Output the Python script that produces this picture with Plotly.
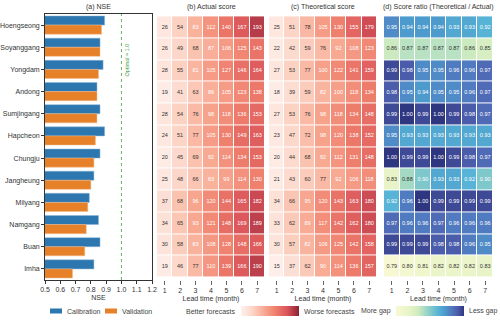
import plotly.graph_objects as go

# ---- data ----
dams = ["Hoengseong", "Soyanggang", "Yongdam", "Andong", "Sumjingang", "Hapcheon",
        "Chungju", "Jangheung", "Milyang", "Namgang", "Buan", "Imha"]
lead_months = [1, 2, 3, 4, 5, 6, 7]

nse_cal = [0.89, 0.86, 0.88, 0.84, 0.86, 0.89, 0.86, 0.82, 0.79, 0.85, 0.86, 0.82]
nse_val = [0.87, 0.86, 0.85, 0.84, 0.84, 0.83, 0.82, 0.80, 0.78, 0.77, 0.76, 0.68]

actual = [
    [26, 54, 83, 112, 140, 167, 193],
    [26, 49, 68, 87, 106, 125, 143],
    [28, 55, 81, 105, 127, 146, 164],
    [19, 41, 63, 86, 105, 123, 138],
    [28, 54, 76, 98, 118, 136, 153],
    [24, 51, 77, 105, 130, 149, 163],
    [20, 45, 69, 92, 114, 134, 153],
    [25, 48, 66, 83, 99, 114, 130],
    [37, 68, 96, 120, 144, 165, 182],
    [34, 65, 93, 121, 148, 169, 189],
    [30, 58, 83, 108, 128, 148, 166],
    [19, 46, 77, 110, 139, 166, 190],
]

theoretical = [
    [25, 51, 78, 105, 130, 155, 179],
    [22, 42, 59, 76, 92, 108, 123],
    [27, 53, 77, 100, 122, 141, 159],
    [18, 39, 59, 82, 100, 118, 134],
    [27, 53, 76, 98, 118, 134, 148],
    [23, 47, 72, 98, 120, 138, 152],
    [20, 44, 68, 92, 112, 131, 148],
    [21, 43, 60, 77, 92, 106, 118],
    [34, 66, 95, 120, 143, 163, 180],
    [33, 62, 89, 117, 142, 162, 180],
    [30, 57, 82, 106, 125, 142, 158],
    [15, 37, 62, 90, 114, 136, 157],
]

ratio = [
    [0.95, 0.94, 0.94, 0.94, 0.93, 0.93, 0.92],
    [0.86, 0.87, 0.87, 0.87, 0.87, 0.86, 0.85],
    [0.99, 0.98, 0.95, 0.95, 0.96, 0.96, 0.97],
    [0.98, 0.95, 0.94, 0.95, 0.95, 0.96, 0.97],
    [0.99, 1.00, 0.99, 1.00, 0.99, 0.98, 0.97],
    [0.95, 0.93, 0.93, 0.93, 0.93, 0.93, 0.93],
    [1.00, 0.99, 0.99, 1.00, 0.99, 0.98, 0.97],
    [0.83, 0.88, 0.90, 0.93, 0.93, 0.92, 0.90],
    [0.92, 0.96, 1.00, 0.99, 0.99, 0.99, 0.99],
    [0.97, 0.96, 0.96, 0.97, 0.96, 0.96, 0.96],
    [0.99, 0.99, 0.99, 0.98, 0.98, 0.96, 0.95],
    [0.79, 0.80, 0.81, 0.82, 0.82, 0.82, 0.83],
]

W, H = 500, 322
FONT = "Liberation Sans, Arial, sans-serif"
TXT = "#333333"

# panel domains (paper fractions)
X_A = [45 / W, 152 / W]
X_B = [157 / W, 265 / W]
X_C = [269 / W, 377 / W]
X_D = [384 / W, 493 / W]
Y_DOM = [1 - 280 / H, 1 - 14 / H]

reds = [[0.0, "#fdf2ee"], [0.2, "#fcd5c6"], [0.4, "#f8a992"], [0.6, "#ef7d6b"],
        [0.8, "#d9535a"], [1.0, "#8c2233"]]
gaps = [[0.0, "#f8f9d3"], [0.2, "#e7f4c7"], [0.33, "#cdebbf"], [0.48, "#8fd0c6"],
        [0.62, "#58b4d6"], [0.72, "#4c9acc"], [0.82, "#5277bf"], [0.91, "#4b5ba9"],
        [1.0, "#2f3680"]]

fig = go.Figure()

# (a) NSE bars
fig.add_trace(go.Bar(y=dams, x=nse_cal, orientation="h", name="Calibration",
                     marker=dict(color="#2c77b0", line=dict(color="#8fb6d6", width=0.5)),
                     xaxis="x", yaxis="y", showlegend=False))
fig.add_trace(go.Bar(y=dams, x=nse_val, orientation="h", name="Validation",
                     marker=dict(color="#e6812a", line=dict(color="#f2bb8a", width=0.5)),
                     xaxis="x", yaxis="y", showlegend=False))


def cell_text(matrix, fmt, light_below, axis_id):
    xs, ys, labels, colors = [], [], [], []
    for dam, row in zip(dams, matrix):
        for month, v in zip(lead_months, row):
            xs.append(month)
            ys.append(dam)
            labels.append(fmt.format(v))
            colors.append("#333333" if v < light_below else "#ffffff")
    return go.Scatter(x=xs, y=ys, mode="text", text=labels,
                      textfont=dict(size=5.5, color=colors, family=FONT),
                      xaxis="x" + axis_id, yaxis="y" + axis_id,
                      hoverinfo="skip", showlegend=False)


cb_common = dict(orientation="h", thickness=10, lenmode="pixels",
                 y=1 - 311 / H, yanchor="middle", outlinewidth=0,
                 showticklabels=False, ticks="", xpad=0, ypad=0)

# (b) actual score
fig.add_trace(go.Heatmap(z=actual, x=lead_months, y=dams, colorscale=reds,
                         zmin=10, zmax=215, xgap=1, ygap=1, xaxis="x2", yaxis="y2",
                         colorbar=dict(x=270 / W, xanchor="center", len=58, **cb_common)))
fig.add_trace(cell_text(actual, "{}", 80, "2"))

# (c) theoretical score
fig.add_trace(go.Heatmap(z=theoretical, x=lead_months, y=dams, colorscale=reds,
                         zmin=10, zmax=215, xgap=1, ygap=1, xaxis="x3", yaxis="y3",
                         showscale=False))
fig.add_trace(cell_text(theoretical, "{}", 80, "3"))

# (d) ratio
fig.add_trace(go.Heatmap(z=ratio, x=lead_months, y=dams, colorscale=gaps,
                         zmin=0.79, zmax=1.0, xgap=1, ygap=1, xaxis="x4", yaxis="y4",
                         colorbar=dict(x=430 / W, xanchor="center", len=68, **cb_common)))
fig.add_trace(cell_text(ratio, "{:.2f}", 0.89, "4"))

tickfont = dict(size=7, color=TXT, family=FONT)
heat_x = dict(tickvals=lead_months, range=[0.5, 7.5], ticks="outside", ticklen=4,
              tickcolor="#666666", tickwidth=0.8, showgrid=False, zeroline=False,
              showline=False, tickfont=tickfont, automargin=False,
              title=dict(text="Lead time (month)", font=tickfont, standoff=2))
heat_y = dict(domain=Y_DOM, autorange="reversed", showticklabels=False, ticks="",
              showgrid=False, zeroline=False, showline=False, automargin=False)

fig.update_layout(
    width=W, height=H,
    margin=dict(l=0, r=0, t=0, b=0, autoexpand=False),
    paper_bgcolor="white", plot_bgcolor="white",
    font=dict(family=FONT, size=7, color=TXT),
    barmode="group", bargap=0.18, bargroupgap=0.0,
    xaxis=dict(domain=X_A, anchor="y", range=[0.5, 1.2], dtick=0.1, tickformat=".1f",
               ticks="outside", ticklen=3, tickcolor="#333333", showgrid=False,
               zeroline=False, showline=True, mirror=True, linecolor="#333333",
               linewidth=0.8, tickfont=tickfont, automargin=False,
               title=dict(text="NSE", font=tickfont, standoff=2)),
    yaxis=dict(domain=Y_DOM, anchor="x", autorange="reversed", ticks="outside",
               ticklen=3, tickcolor="#333333", showgrid=False, zeroline=False,
               showline=True, mirror=True, linecolor="#333333", linewidth=0.8,
               tickfont=tickfont, automargin=False),
    xaxis2=dict(domain=X_B, anchor="y2", **heat_x),
    yaxis2=dict(anchor="x2", **heat_y),
    xaxis3=dict(domain=X_C, anchor="y3", **heat_x),
    yaxis3=dict(anchor="x3", **heat_y),
    xaxis4=dict(domain=X_D, anchor="y4", **heat_x),
    yaxis4=dict(anchor="x4", **heat_y),
)

# optimal line on NSE panel
fig.add_shape(type="line", xref="x", yref="paper", x0=1.0, x1=1.0,
              y0=Y_DOM[0], y1=Y_DOM[1], line=dict(color="#3a9a3a", width=0.8, dash="dot"))
fig.add_annotation(text="Optimal = 1.0", x=1.0, xref="x", xshift=6, y=1 - 60 / H,
                   yref="paper", xanchor="center", yanchor="middle", textangle=-90,
                   showarrow=False, font=dict(size=5.5, color="#3a9a3a", family=FONT))

# panel titles
titles = ["(a) NSE", "(b) Actual score", "(c) Theoretical score",
          "(d) Score ratio (Theoretical / Actual)"]
for t, dom in zip(titles, [X_A, X_B, X_C, X_D]):
    fig.add_annotation(text=t, x=(dom[0] + dom[1]) / 2, y=1 - 7 / H, xref="paper",
                       yref="paper", xanchor="center", yanchor="middle", showarrow=False,
                       font=dict(size=7, color=TXT, family=FONT))

# bottom legend for bars
small = dict(size=7, color="#444444", family=FONT)
for x0, col, label in [(50, "#2c77b0", "Calibration"), (105, "#e6812a", "Validation")]:
    fig.add_shape(type="rect", xref="paper", yref="paper", x0=x0 / W, x1=(x0 + 12) / W,
                  y0=1 - 313.5 / H, y1=1 - 308.5 / H, fillcolor=col, line=dict(width=0))
    fig.add_annotation(text=label, x=(x0 + 15) / W, y=1 - 311 / H, xref="paper",
                       yref="paper", xanchor="left", yanchor="middle", showarrow=False,
                       font=small)

# colorbar end labels
for label, x, anchor in [("Better forecasts", 238, "right"), ("Worse forecasts", 302, "left"),
                         ("More gap", 393, "right"), ("Less gap", 467, "left")]:
    fig.add_annotation(text=label, x=x / W, y=1 - 311 / H, xref="paper", yref="paper",
                       xanchor=anchor, yanchor="middle", showarrow=False, font=small)

fig.write_html("out.html", config={"displayModeBar": False},
               post_script="document.body.style.margin='0';")
